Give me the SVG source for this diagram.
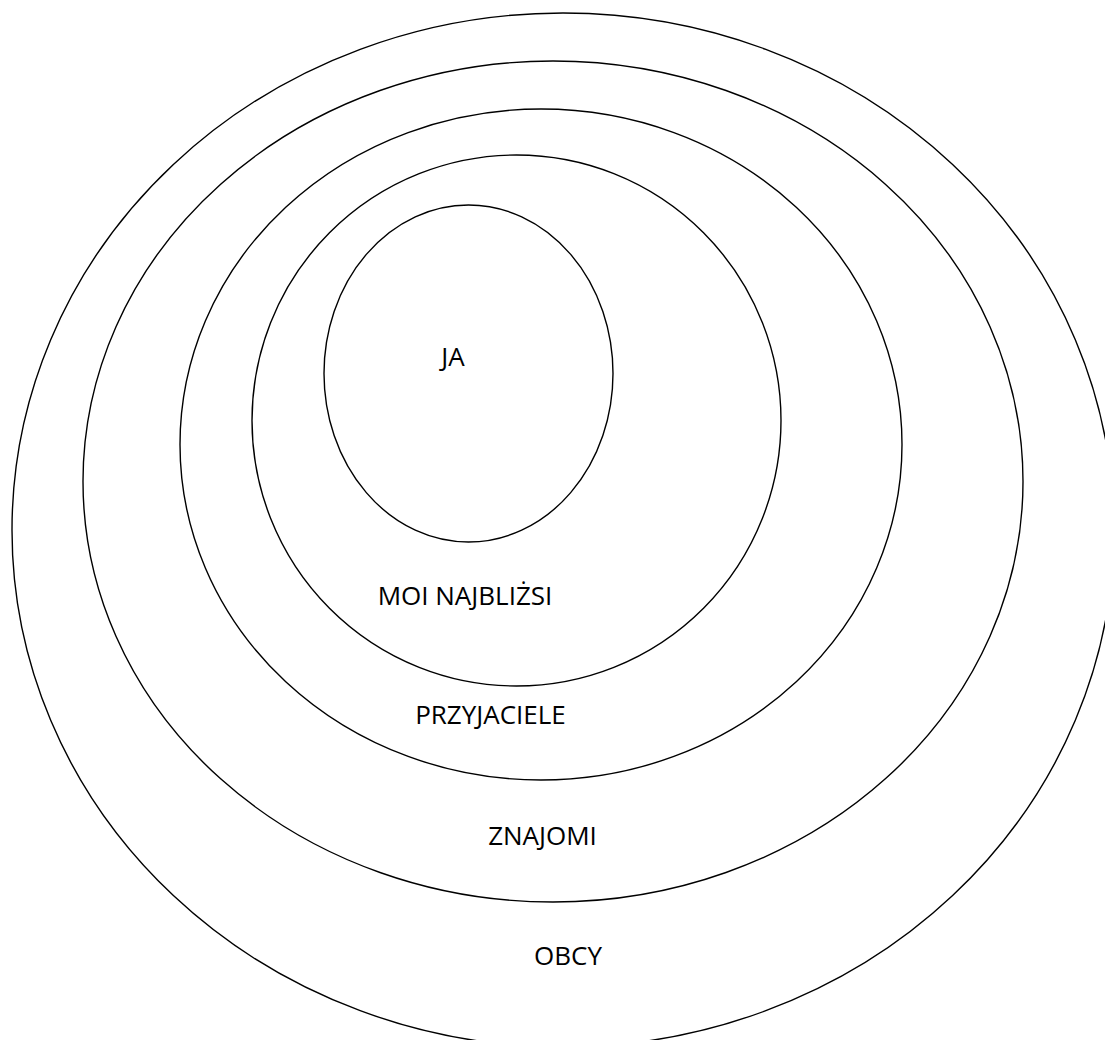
<svg xmlns="http://www.w3.org/2000/svg" width="1105" height="1040" viewBox="0 0 1105 1040">
<style>
.ring{fill:none;stroke:#000;stroke-width:1.4}
.lbl{font-family:"Open Sans","Liberation Sans",sans-serif;font-size:26px;fill:#000;text-anchor:middle}
</style>
<rect width="1105" height="1040" fill="#fff"/>
<g id="obcy">
<ellipse class="ring" cx="563" cy="530" rx="551" ry="517"/>
<text class="lbl" x="568" y="965">OBCY</text>
</g>
<g id="znajomi">
<ellipse class="ring" cx="553" cy="481.5" rx="470" ry="420.5"/>
<text class="lbl" x="542.5" y="845">ZNAJOMI</text>
</g>
<g id="przyjaciele">
<ellipse class="ring" cx="541" cy="444.5" rx="361" ry="335.5"/>
<text class="lbl" x="490.5" y="724">PRZYJACIELE</text>
</g>
<g id="najblizsi">
<ellipse class="ring" cx="516.5" cy="420.5" rx="264.5" ry="265.5"/>
<text class="lbl" x="465" y="605">MOI NAJBLIŻSI</text>
</g>
<g id="ja">
<ellipse class="ring" cx="468.5" cy="373.5" rx="144.5" ry="168.5"/>
<text class="lbl" x="453" y="366">JA</text>
</g>
<g id="connectors"></g>
</svg>
